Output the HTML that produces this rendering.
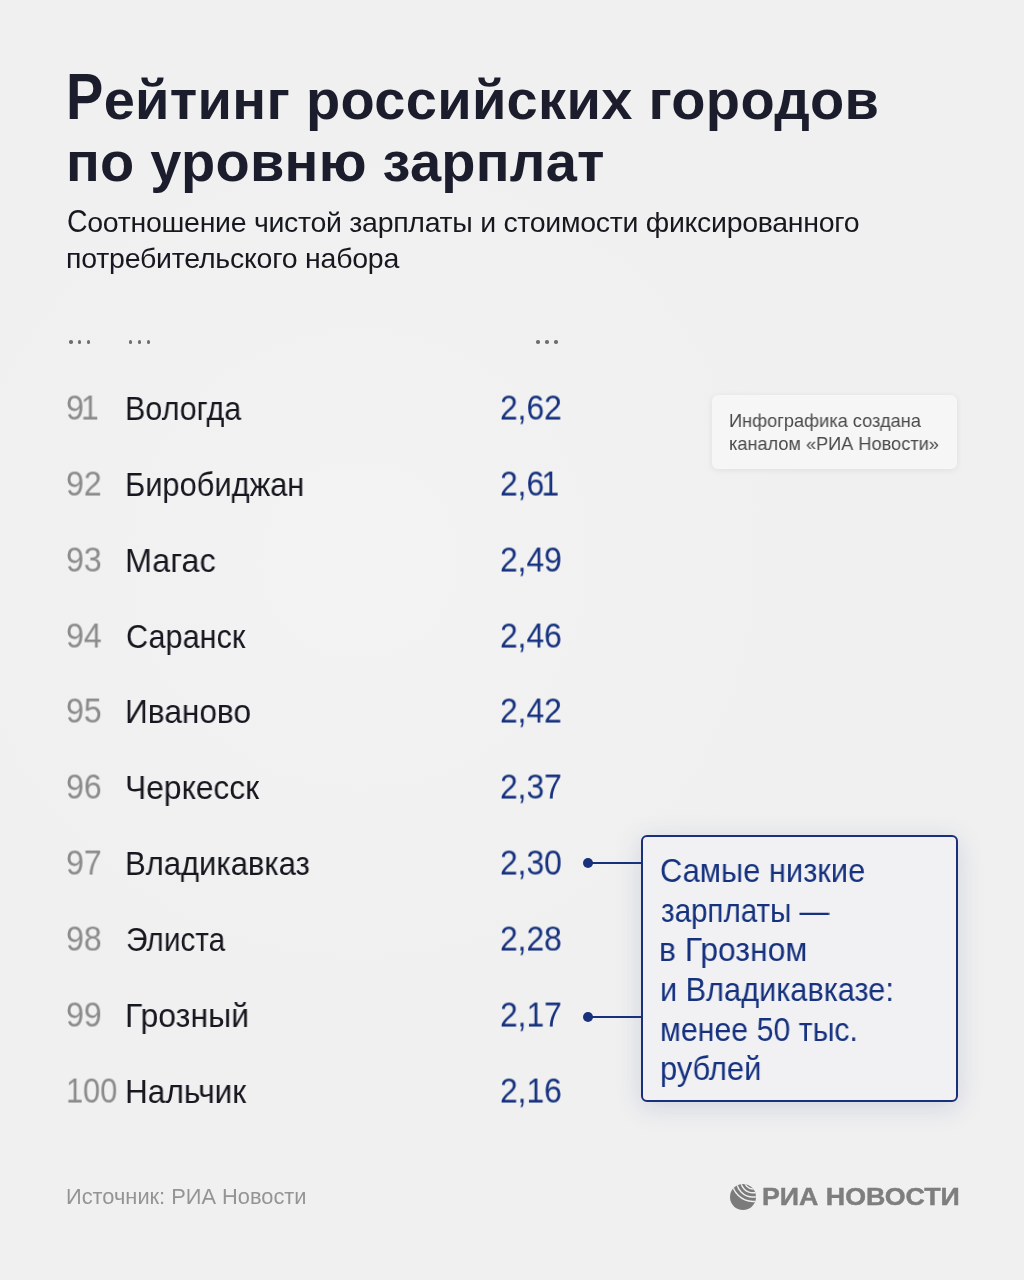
<!DOCTYPE html>
<html lang="ru">
<head>
<meta charset="utf-8">
<style>
html,body{margin:0;padding:0;}
body{width:1024px;height:1280px;overflow:hidden;background:radial-gradient(circle at 360px 560px,#f3f3f3 0,#f1f1f1 260px,#f0f0f0 440px);font-family:"Liberation Sans",sans-serif;position:relative;}
.a{position:absolute;white-space:nowrap;line-height:1;transform-origin:0 0;will-change:transform;}
.t{font-weight:bold;color:#1c1d2c;}
.capP{display:inline-block;transform:scaleY(1.17);transform-origin:0 47.4px;}
.capS{display:inline-block;transform:scaleY(1.09);transform-origin:0 24.1px;}
.sub{color:#17181f;}
.n{color:#8b8b8b;}
.c{color:#16171f;}
.v{color:#16327f;}
.cl{color:#16327f;}
.il{color:#4a4a4a;}
.src{color:#949494;}
.lt{font-weight:bold;color:#7e7e7e;-webkit-text-stroke:0.45px #7e7e7e;}
.d{position:absolute;width:3.5px;height:3.5px;border-radius:50%;background:#6e6e6e;top:340px;}
.info{position:absolute;left:712px;top:395px;width:245px;height:74px;background:#f6f6f6;border-radius:6px;box-shadow:0 1px 6px rgba(0,0,0,0.08);}
.dot{position:absolute;width:10px;height:10px;border-radius:50%;background:#17317c;}
.line{position:absolute;height:2px;background:#17317c;}
.call{position:absolute;left:641px;top:835px;width:313px;height:263px;border:2px solid #1a307a;border-radius:6px;background:#f1f1f3;box-shadow:0 5px 26px rgba(50,70,140,0.17);}
.logo{position:absolute;left:730px;top:1184px;width:26px;height:26px;}
</style>
</head>
<body>
<div class="d" style="left:69.05px"></div><div class="d" style="left:77.85px"></div><div class="d" style="left:86.85px"></div>
<div class="d" style="left:128.65px"></div><div class="d" style="left:137.55px"></div><div class="d" style="left:146.65px"></div>
<div class="d" style="left:536.25px"></div><div class="d" style="left:545.25px"></div><div class="d" style="left:554.45px"></div>
<div class="info"></div>
<div class="line" style="left:588px;top:862px;width:55px;"></div>
<div class="line" style="left:588px;top:1016px;width:55px;"></div>
<div class="dot" style="left:583px;top:857.8px;"></div>
<div class="dot" style="left:583px;top:1012.1px;"></div>
<div class="call"></div>
<svg class="logo" width="26" height="26" viewBox="0 0 26 26">
<defs><clipPath id="gc"><circle cx="13" cy="13" r="13"/></clipPath></defs>
<circle cx="13" cy="13" r="13" fill="#7b7b7b"/>
<g clip-path="url(#gc)" fill="none" stroke="#f0f0f0" stroke-width="1.4">
<circle cx="23" cy="-3.5" r="21"/>
<circle cx="23" cy="-3.5" r="16.5"/>
<circle cx="23" cy="-3.5" r="12.3"/>
<circle cx="23" cy="-3.5" r="8.5"/>
</g>
</svg>
<div class="a t" style="left:65.80px;top:72.00px;font-size:56px;letter-spacing:0.308px;"><span class="capP">Р</span>ейтинг российских городов</div>
<div class="a t" style="left:65.80px;top:133.60px;font-size:56px;letter-spacing:0.250px;">по уровню зарплат</div>
<div class="a sub" style="left:66.80px;top:207.87px;font-size:28.5px;letter-spacing:-0.294px;"><span class="capS">С</span>оотношение чистой зарплаты и стоимости фиксированного</div>
<div class="a sub" style="left:66.40px;top:244.07px;font-size:28.5px;letter-spacing:-0.227px;">потребительского набора</div>
<div class="a n" style="left:65.65px;top:392.07px;font-size:33px;transform:scale(0.9758,1.05);transform-origin:0 27.93px;">9<span style="position:relative;left:-3px">1</span></div>
<div class="a c" style="left:125.23px;top:392.07px;font-size:33px;transform:scale(0.9236,1.0);transform-origin:0 27.93px;">Вологда</div>
<div class="a v" style="left:499.57px;top:392.07px;font-size:33px;transform:scale(0.9637,1.05);transform-origin:0 27.93px;">2,62</div>
<div class="a n" style="left:65.65px;top:467.90px;font-size:33px;transform:scale(0.9758,1.05);transform-origin:0 27.93px;">92</div>
<div class="a c" style="left:125.20px;top:467.90px;font-size:33px;transform:scale(0.9337,1.0);transform-origin:0 27.93px;">Биробиджан</div>
<div class="a v" style="left:499.57px;top:467.90px;font-size:33px;transform:scale(0.9637,1.05);transform-origin:0 27.93px;">2,6<span style="position:relative;left:-3px">1</span></div>
<div class="a n" style="left:65.65px;top:543.73px;font-size:33px;transform:scale(0.9758,1.05);transform-origin:0 27.93px;">93</div>
<div class="a c" style="left:125.06px;top:543.73px;font-size:33px;transform:scale(0.9809,1.0);transform-origin:0 27.93px;">Магас</div>
<div class="a v" style="left:499.57px;top:543.73px;font-size:33px;transform:scale(0.9637,1.05);transform-origin:0 27.93px;">2,49</div>
<div class="a n" style="left:65.65px;top:619.56px;font-size:33px;transform:scale(0.9758,1.05);transform-origin:0 27.93px;">94</div>
<div class="a c" style="left:126.14px;top:619.56px;font-size:33px;transform:scale(0.9286,1.0);transform-origin:0 27.93px;">Саранск</div>
<div class="a v" style="left:499.57px;top:619.56px;font-size:33px;transform:scale(0.9637,1.05);transform-origin:0 27.93px;">2,46</div>
<div class="a n" style="left:65.65px;top:695.39px;font-size:33px;transform:scale(0.9758,1.05);transform-origin:0 27.93px;">95</div>
<div class="a c" style="left:125.12px;top:695.39px;font-size:33px;transform:scale(0.9598,1.0);transform-origin:0 27.93px;">Иваново</div>
<div class="a v" style="left:499.57px;top:695.39px;font-size:33px;transform:scale(0.9637,1.05);transform-origin:0 27.93px;">2,42</div>
<div class="a n" style="left:65.65px;top:771.22px;font-size:33px;transform:scale(0.9758,1.05);transform-origin:0 27.93px;">96</div>
<div class="a c" style="left:125.11px;top:771.22px;font-size:33px;transform:scale(0.9632,1.0);transform-origin:0 27.93px;">Черкесск</div>
<div class="a v" style="left:499.57px;top:771.22px;font-size:33px;transform:scale(0.9637,1.05);transform-origin:0 27.93px;">2,37</div>
<div class="a n" style="left:65.65px;top:847.05px;font-size:33px;transform:scale(0.9758,1.05);transform-origin:0 27.93px;">97</div>
<div class="a c" style="left:125.18px;top:847.05px;font-size:33px;transform:scale(0.9401,1.0);transform-origin:0 27.93px;">Владикавказ</div>
<div class="a v" style="left:499.57px;top:847.05px;font-size:33px;transform:scale(0.9637,1.05);transform-origin:0 27.93px;">2,30</div>
<div class="a n" style="left:65.65px;top:922.88px;font-size:33px;transform:scale(0.9758,1.05);transform-origin:0 27.93px;">98</div>
<div class="a c" style="left:126.19px;top:922.88px;font-size:33px;transform:scale(0.9028,1.0);transform-origin:0 27.93px;">Элиста</div>
<div class="a v" style="left:499.57px;top:922.88px;font-size:33px;transform:scale(0.9637,1.05);transform-origin:0 27.93px;">2,28</div>
<div class="a n" style="left:65.65px;top:998.71px;font-size:33px;transform:scale(0.9758,1.05);transform-origin:0 27.93px;">99</div>
<div class="a c" style="left:125.09px;top:998.71px;font-size:33px;transform:scale(0.9699,1.0);transform-origin:0 27.93px;">Грозный</div>
<div class="a v" style="left:499.57px;top:998.71px;font-size:33px;transform:scale(0.9637,1.05);transform-origin:0 27.93px;">2,17</div>
<div class="a n" style="left:66.34px;top:1074.54px;font-size:33px;transform:scale(0.9308,1.05);transform-origin:0 27.93px;">100</div>
<div class="a c" style="left:125.13px;top:1074.54px;font-size:33px;transform:scale(0.9577,1.0);transform-origin:0 27.93px;">Нальчик</div>
<div class="a v" style="left:499.57px;top:1074.54px;font-size:33px;transform:scale(0.9637,1.05);transform-origin:0 27.93px;">2,16</div>
<div class="a cl" style="left:659.53px;top:854.07px;font-size:33px;transform:scale(0.9347,1.0);transform-origin:0 27.93px;">Самые низкие</div>
<div class="a cl" style="left:660.50px;top:893.67px;font-size:33px;transform:scale(0.8963,1.0);transform-origin:0 27.93px;">зарплаты —</div>
<div class="a cl" style="left:659.47px;top:933.27px;font-size:33px;transform:scale(0.9664,1.0);transform-origin:0 27.93px;">в Грозном</div>
<div class="a cl" style="left:659.54px;top:972.97px;font-size:33px;transform:scale(0.9304,1.0);transform-origin:0 27.93px;">и Владикавказе:</div>
<div class="a cl" style="left:659.56px;top:1012.57px;font-size:33px;transform:scale(0.9185,1.0);transform-origin:0 27.93px;">менее 50 тыс.</div>
<div class="a cl" style="left:659.53px;top:1052.07px;font-size:33px;transform:scale(0.9356,1.0);transform-origin:0 27.93px;">рублей</div>
<div class="a il" style="left:728.52px;top:411.64px;font-size:18.5px;transform:scale(0.9840,1.0);transform-origin:0 15.66px;">Инфографика создана</div>
<div class="a il" style="left:728.52px;top:434.54px;font-size:18.5px;transform:scale(0.9816,1.0);transform-origin:0 15.66px;">каналом «РИА Новости»</div>
<div class="a src" style="left:65.57px;top:1186.80px;font-size:21.5px;transform:scale(1.0145,1.0);transform-origin:0 18.20px;">Источник: РИА Новости</div>
<div class="a lt" style="left:762.09px;top:1185.11px;font-size:24.2px;transform:scale(1.1069,1.0);transform-origin:0 20.49px;">РИА НОВОСТИ</div>
</body>
</html>
